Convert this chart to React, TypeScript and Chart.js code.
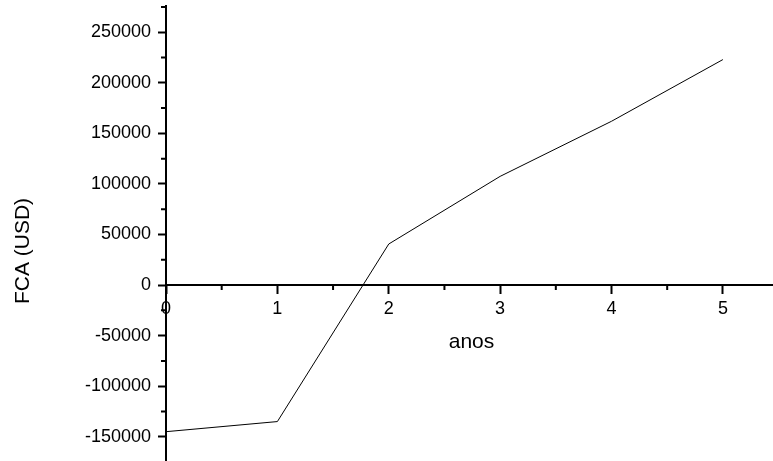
import React, { useEffect, useRef } from "react";
import { Chart, registerables } from "chart.js";

Chart.register(...registerables);

// ---- data ----
const years = [0, 1, 2, 3, 4, 5];
const fca = [-145000, -135000, 40600, 107500, 162000, 223000];

// ---- axes ----
const xMajorTicks = [0, 1, 2, 3, 4, 5];
const xMinorTicks = [0.5, 1.5, 2.5, 3.5, 4.5];
const yMajorTicks = [-150000, -100000, -50000, 0, 50000, 100000, 150000, 200000, 250000];
const yMinorTicks = [-125000, -75000, -25000, 25000, 75000, 125000, 175000, 225000, 275000];
const xMin = 0;
const xMax = 5.45;
const yMin = -174000;
const yMax = 276000;
const xTitle = "anos";
const yTitle = "FCA (USD)";

const FONT = "'Liberation Sans', Arial, Helvetica, sans-serif";

const axisExtras = {
  id: "axisExtras",
  afterDraw(chart: any) {
    const ctx = chart.ctx;
    const xs = chart.scales.x;
    const ys = chart.scales.y;
    const x0 = xs.getPixelForValue(0);
    const y0 = ys.getPixelForValue(0);
    ctx.save();
    ctx.strokeStyle = "#000";
    ctx.lineWidth = 2;
    ctx.beginPath();
    xMinorTicks.forEach((v) => {
      const px = xs.getPixelForValue(v);
      ctx.moveTo(px, y0 + 1);
      ctx.lineTo(px, y0 + 5);
    });
    yMinorTicks.forEach((v) => {
      const py = ys.getPixelForValue(v);
      ctx.moveTo(x0 - 1, py);
      ctx.lineTo(x0 - 5, py);
    });
    ctx.stroke();

    ctx.fillStyle = "#000";
    ctx.font = `21px ${FONT}`;
    ctx.textAlign = "center";
    ctx.textBaseline = "alphabetic";
    const area = chart.chartArea;
    ctx.fillText(xTitle, (area.left + area.right) / 2 + 2, y0 + 63);
    ctx.translate(28.5, 251);
    ctx.rotate(-Math.PI / 2);
    ctx.fillText(yTitle, 0, 0);
    ctx.restore();
  },
};

export default function App() {
  const ref = useRef<HTMLCanvasElement | null>(null);

  useEffect(() => {
    if (!ref.current) return;
    const chart = new Chart(ref.current, {
      type: "line",
      data: {
        datasets: [
          {
            data: years.map((x, i) => ({ x, y: fca[i] })),
            borderColor: "#000",
            borderWidth: 1,
            pointRadius: 0,
            tension: 0,
            fill: false,
          },
        ],
      },
      options: {
        animation: false,
        responsive: false,
        devicePixelRatio: 1,
        layout: { padding: { left: 0, top: 6, right: 0, bottom: 0 } },
        plugins: {
          legend: { display: false },
          tooltip: { enabled: false },
        },
        scales: {
          x: {
            type: "linear",
            position: { y: 0 } as any,
            min: xMin,
            max: xMax,
            afterBuildTicks: (scale: any) => {
              scale.ticks = xMajorTicks.map((v) => ({ value: v }));
            },
            ticks: {
              color: "#000",
              font: { family: FONT, size: 18 },
              padding: 5,
              maxRotation: 0,
              autoSkip: false,
              callback: (v: any) => String(v),
            },
            grid: {
              drawOnChartArea: false,
              drawTicks: true,
              tickLength: 8,
              tickColor: "#000",
              tickWidth: 2,
            },
            border: { display: true, color: "#000", width: 2 },
          },
          y: {
            type: "linear",
            position: "left",
            min: yMin,
            max: yMax,
            afterBuildTicks: (scale: any) => {
              scale.ticks = yMajorTicks.map((v) => ({ value: v }));
            },
            afterFit: (scale: any) => {
              scale.width = 166;
              scale.paddingTop = 0;
              scale.paddingBottom = 0;
            },
            ticks: {
              color: "#000",
              font: { family: FONT, size: 18 },
              padding: 7,
              autoSkip: false,
              callback: (v: any) => String(v),
            },
            grid: {
              drawOnChartArea: false,
              drawTicks: true,
              tickLength: 8,
              tickColor: "#000",
              tickWidth: 2,
            },
            border: { display: true, color: "#000", width: 2 },
          },
        },
      },
      plugins: [axisExtras],
    });
    return () => chart.destroy();
  }, []);

  return (
    <div style={{ position: "fixed", left: 0, top: 0, width: 773, height: 461, background: "#fff" }}>
      <canvas ref={ref} width={773} height={461} style={{ display: "block" }} />
    </div>
  );
}
